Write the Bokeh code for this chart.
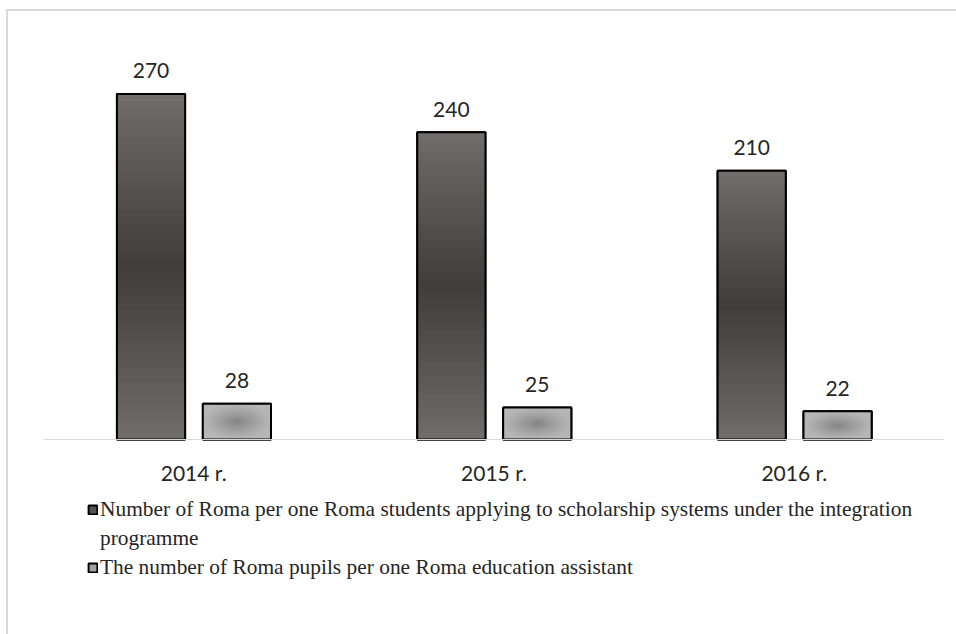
from bokeh.plotting import figure
from bokeh.models import ColumnDataSource, FactorRange, LabelSet, Legend, LegendItem, Span
from bokeh.transform import dodge
from bokeh.core.properties import value
from bokeh.embed import file_html
from bokeh.resources import INLINE

years = ["2014 r.", "2015 r.", "2016 r."]
scholarship = [270, 240, 210]
assistant = [28, 25, 22]
# legend text (the first label wraps onto a second line in the reference)
series_label_lines = [
    ["Number of Roma per one Roma students applying to scholarship systems under the integration",
     "programme"],
    ["The number of Roma pupils per one Roma education assistant"],
]

p = figure(
    x_range=FactorRange(*years), y_range=(-153.9, 310.2),
    width=950, height=625, output_backend="svg", toolbar_location=None,
    min_border_left=35, min_border_right=14, min_border_top=31, min_border_bottom=0,
)
p.margin = (9, 0, 0, 6)
p.styles = {"border-top": "2px solid #d9d9d9", "border-left": "2px solid #d9d9d9"}
p.outline_line_color = None
p.background_fill_color = "white"
p.border_fill_color = "white"
p.xgrid.grid_line_color = None
p.ygrid.grid_line_color = None
p.xaxis.visible = False
p.yaxis.visible = False

# category baseline
p.add_layout(Span(location=0, dimension="width", line_color="#d9d9d9", line_width=1))


def hexmix(a, b, t):
    ca = [int(a[i:i + 2], 16) for i in (1, 3, 5)]
    cb = [int(b[i:i + 2], 16) for i in (1, 3, 5)]
    return "#%02x%02x%02x" % tuple(round(ca[j] + (cb[j] - ca[j]) * t) for j in range(3))


W = 0.227
N = 24
dark_off, dark_edge, dark_center = -0.142, "#716d6c", "#3f3c3b"
light_off, light_edge, light_center = 0.144, "#b6b6b6", "#868686"

# base bars (also used as legend swatches)
base = []
for vals, off, fill in ((scholarship, dark_off, "#575352"), (assistant, light_off, "#a2a2a2")):
    src = ColumnDataSource(dict(x=years, top=vals))
    base.append(p.vbar(x=dodge("x", off, range=p.x_range), top="top", bottom=0, width=W,
                       source=src, fill_color=fill, line_color="black", line_width=2))

# dark series: gradient darkest in the middle of the bar
for k in range(N):
    s = 1 - k / N
    src = ColumnDataSource(dict(
        x=years,
        top=[v * (1 + s) / 2 for v in scholarship],
        bottom=[v * (1 - s) / 2 for v in scholarship],
    ))
    p.vbar(x=dodge("x", dark_off, range=p.x_range), top="top", bottom="bottom",
           width=W, source=src,
           fill_color=hexmix(dark_edge, dark_center, (k / N) ** 0.9), line_color=None)

# light series: radial spot (concentric ellipses inside the bar)
src = ColumnDataSource(dict(x=years, top=assistant))
p.vbar(x=dodge("x", light_off, range=p.x_range), top="top", bottom=0, width=W,
       source=src, fill_color=light_edge, line_color=None)
for k in range(N):
    s = 1 - k / N
    src = ColumnDataSource(dict(x=years, y=[v / 2 for v in assistant], h=[v * s for v in assistant]))
    p.ellipse(x=dodge("x", light_off, range=p.x_range), y="y", width=W * s, height="h",
              source=src, fill_color=hexmix(light_edge, light_center, ((k + 1) / N) ** 1.2),
              line_color=None)

for vals, off in ((scholarship, dark_off), (assistant, light_off)):
    src = ColumnDataSource(dict(x=years, top=vals))
    p.vbar(x=dodge("x", off, range=p.x_range), top="top", bottom=0, width=W,
           source=src, fill_alpha=0, line_color="black", line_width=2)
    lab = ColumnDataSource(dict(x=years, y=vals, t=[str(v) for v in vals]))
    p.add_layout(LabelSet(x=dodge("x", off, range=p.x_range), y="y", text="t", source=lab,
                          text_align="center", text_baseline="middle", y_offset=23,
                          text_font=value("Lato"), text_font_size="21px",
                          text_color="#262626"))

# category labels under the baseline
cat_src = ColumnDataSource(dict(x=years, y=[0] * len(years), t=years))
p.add_layout(LabelSet(x="x", y="y", text="t", source=cat_src, text_align="center",
                      text_baseline="middle", y_offset=-33, text_font=value("Lato"),
                      text_font_size="21px", text_color="#262626"))

# invisible renderer: lets the wrapped second line sit in the legend without a swatch
blank = p.vbar(x=dodge("x", dark_off, range=p.x_range), top="top", bottom=0, width=W,
               source=ColumnDataSource(dict(x=years, top=scholarship)),
               fill_alpha=0, line_alpha=0)

legend_items = []
for r, lines in zip(base, series_label_lines):
    legend_items.append(LegendItem(label=lines[0], renderers=[r]))
    for extra in lines[1:]:
        legend_items.append(LegendItem(label=extra, renderers=[blank]))

legend = Legend(items=legend_items, location=(44, 56), orientation="vertical",
                label_text_font="Liberation Serif", label_text_font_size="21.4px",
                label_text_color="#262626", glyph_width=11, glyph_height=11,
                label_standoff=2, spacing=4, padding=0, margin=0,
                border_line_color=None, background_fill_alpha=0)
p.add_layout(legend)

open("out.html", "w").write(file_html(p, INLINE))
